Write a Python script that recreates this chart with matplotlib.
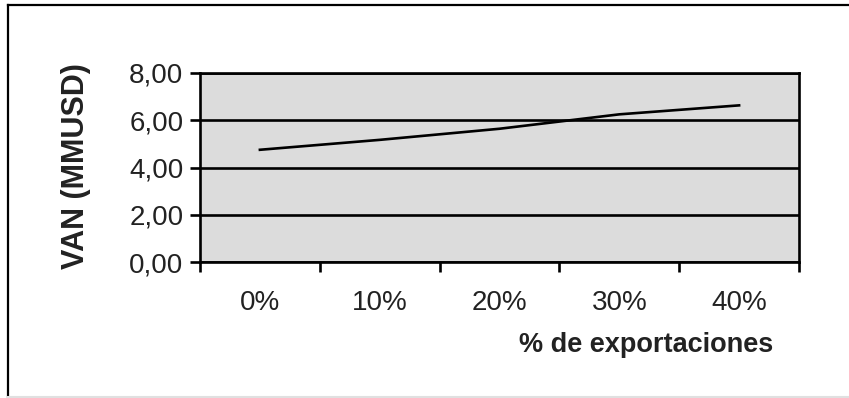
import matplotlib.pyplot as plt
from matplotlib.lines import Line2D
from matplotlib.ticker import FixedLocator, FuncFormatter

categorias = ["0%", "10%", "20%", "30%", "40%"]
van = [4.75, 5.17, 5.64, 6.25, 6.63]

plt.rcParams["font.family"] = ["Liberation Sans", "DejaVu Sans"]

fig = plt.figure(figsize=(8.49, 3.98), dpi=100)
ax = fig.add_axes([200 / 849, 1 - 262 / 398, 599 / 849, 189 / 398])
ax.set_facecolor("#dcdcdc")

x = list(range(len(categorias)))
ax.plot(x, van, color="black", lw=1.9, zorder=3)

ax.set_xlim(-0.5, len(categorias) - 0.5)
ax.set_ylim(0, 8)
ax.set_yticks([0, 2, 4, 6, 8])
ax.yaxis.set_major_formatter(FuncFormatter(lambda v, p: f"{v:.2f}".replace(".", ",")))
ax.grid(axis="y", color="black", lw=1.9, zorder=1)

# marcas entre categorías, etiquetas centradas
ax.xaxis.set_major_locator(FixedLocator([i - 0.5 for i in range(len(categorias) + 1)]))
ax.xaxis.set_major_formatter(FuncFormatter(lambda v, p: ""))
ax.xaxis.set_minor_locator(FixedLocator(x))
ax.set_xticks(x, categorias, minor=True)
ax.tick_params(axis="x", which="minor", length=0, pad=20, labelsize=20, labelcolor="#222222")
ax.tick_params(axis="x", which="major", length=7, width=1.9, direction="out")
ax.tick_params(axis="y", length=7, width=1.9, direction="out", labelsize=20, labelcolor="#222222", pad=5)

for s in ax.spines.values():
    s.set_linewidth(1.9)
    s.set_color("black")

ax.set_ylabel("VAN (MMUSD)", fontsize=22, fontweight="bold", color="#222222")
ax.yaxis.set_label_coords((91 - 200) / 599, (262 - 166) / 189)
fig.text(773 / 849, 1 - 345 / 398, "% de exportaciones", ha="right", va="center",
         fontsize=19.5, fontweight="bold", color="#222222")

# marco de la figura
fig.add_artist(Line2D([8 / 849, 8 / 849], [1 - 5 / 398, 1 - 397 / 398], transform=fig.transFigure, color="black", lw=1.6))
fig.add_artist(Line2D([8 / 849, 1], [1 - 5 / 398, 1 - 5 / 398], transform=fig.transFigure, color="black", lw=1.6))
fig.add_artist(Line2D([8 / 849, 1], [1 - 397 / 398, 1 - 397 / 398], transform=fig.transFigure, color="#e0e0e0", lw=1.5))

fig.savefig("out.png", dpi=100)
